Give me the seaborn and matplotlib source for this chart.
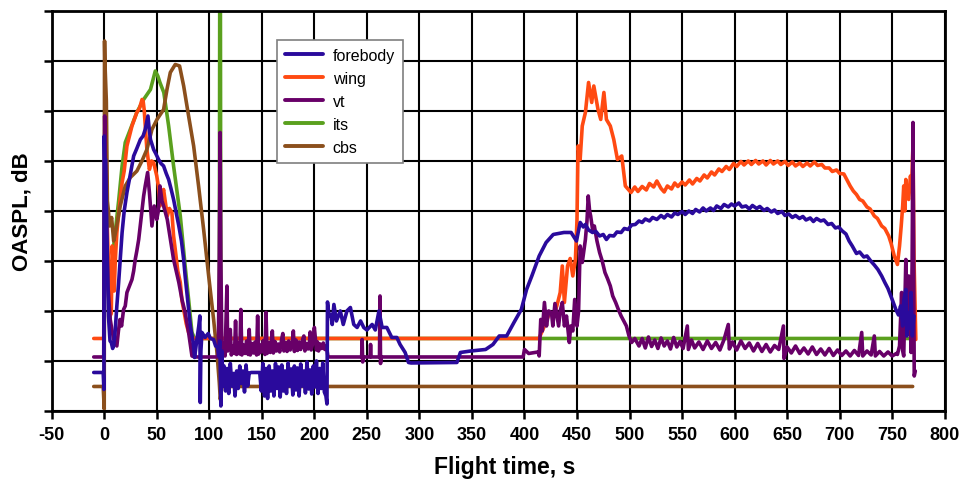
import numpy as np
import pandas as pd
import matplotlib
matplotlib.use("Agg")
import matplotlib.pyplot as plt
import seaborn as sns

# =====================
# DATA
# =====================
series_names = ["forebody", "wing", "vt", "its", "cbs"]
series_colors = ["#2A0A9C", "#FF4A12", "#680068", "#5AA01E", "#8B4F1C"]

x_ticks = list(range(-50, 801, 50))

forebody_t = [-10, -1, -0.3, 0, 0.5, 1.3, 2.5, 4, 5.5, 6.7, 8, 9, 10.5, 12, 13.7, 15.5, 17, 19, 21.6, 25,
              28, 31, 34.4, 37, 39, 41.6, 43, 44, 46, 47, 49, 51.7, 54, 56.5, 59, 61.3, 63.5, 66, 68.5, 71,
              73.5, 75.6, 77, 78.7, 80.5, 82, 84.7, 86, 88, 90, 91, 91.4, 92, 93, 96, 99, 101, 104, 106, 108,
              109, 110, 111, 112,
              113, 114, 115.5, 117, 118.5, 120, 121.5, 123, 124.5, 126, 127.5, 129, 130.5, 132, 133.5, 135,
              136.5, 138, 140, 142, 144, 146, 148, 149.5, 151, 152.5, 154, 155.5, 157, 158.5, 160, 161.5,
              163, 164.5, 166, 167.5, 169, 170.5, 172, 173.5, 175, 176.5, 178, 179.5, 181, 182.5, 184, 185.5,
              187, 188.5, 190, 191.5, 193, 194.5, 196, 197.5, 199, 200.5, 202, 203.5, 205, 206.5, 208, 209.5,
              211, 212, 212.5, 214, 215.7, 217, 218.6, 221, 224.7, 227.5, 231, 234.3, 237.5, 240.7, 244, 247,
              250, 255, 258, 261.5, 264.5, 269, 273.7, 278.5, 281.6, 286.4, 289.6, 292, 335.7, 339, 349, 363,
              370, 376, 383, 390, 397, 402, 407, 414, 420.6, 427.4, 437.6, 444.4, 449.5,
              453, 456, 458, 461, 464.8, 468, 471.5, 475, 478, 481, 485, 488, 492, 495, 498.7, 502, 505.5,
              509, 512, 515, 519, 522, 526, 530, 533, 536, 540, 543, 546, 550, 553, 556.5, 560, 563, 566.7,
              570, 573, 577, 580, 583, 587, 590, 594, 597, 600, 604, 607, 610.8, 614, 617, 621, 624, 628,
              631, 635, 638, 641, 645, 648, 651.5, 655, 658, 661.8, 665, 668, 672, 675, 678, 682, 685, 689,
              692.4, 696, 699, 702.5, 706, 709, 712, 716, 719, 723, 726, 729.6, 733, 736.4, 740, 743, 746,
              750, 753.5, 756, 758, 760, 761, 763, 764, 765.7, 767, 768, 769.2, 770, 770.8]
forebody_v = [7.7, 7.7, 4.3, 55, 50, 50.3, 36, 19, 14, 13.7, 12.5, 13, 16.3, 21, 25.7, 31, 35.7, 40, 43.7, 47.5,
              51, 52.5, 54.3, 55, 56.3, 59, 56, 54.3, 53, 52.3, 51.5, 50.3, 49.5, 49, 47.5, 46.3, 44.5, 42.3,
              39.7, 37, 34, 30.3, 27, 23.7, 20, 17, 13.7, 10.7, 14, 17, 19, 1.7, 12, 15.7, 14.7, 15.5, 14.5,
              14.3, 13, 12.7, 11, 14, 1, 12,
              5, 9, 4, 8.5, 3.5, 9.5, 5, 7.5, 3, 8, 4.5, 9, 5.5, 8, 3.8, 9.2, 5, 7.6, 7.7, 7.7, 7.7, 7.7,
              7.7, 4, 9.5, 3, 8.5, 2.5, 9, 4, 8, 3, 9.5, 4.5, 8.8, 2.8, 9.2, 4, 8, 3.5, 9.6, 5, 8.4, 3.2, 9,
              4.2, 8.6, 3, 9.4, 5, 8, 3.6, 9.8, 4.4, 8.2, 3.4, 9, 4.8, 10, 3.5, 8.5, 4.5, 9.6, 3.8,
              3, 1.4, 21.8, 19, 19.3, 17.3, 21.3, 18, 20, 17.3, 20, 20.7, 17.3, 16.7, 18, 16.7, 16.2, 17.3,
              16.2, 20, 16.7, 16.7, 14.7, 14.7, 13.3, 11.7, 9.7, 9.6, 9.7, 11.7, 12, 12.3, 13.3, 15, 15, 17.7,
              20.3, 24.3, 27, 31, 33.7, 35.3, 35.7, 35.7, 34,
              37.7, 36.8, 37.3, 36.2, 35.7, 35.9, 35, 35.3, 34.3, 35.1, 35, 35.8, 35.7, 36.5, 36.3, 37.2,
              37.3, 38, 37.7, 38.4, 38, 38.7, 38.3, 39.1, 38.6, 39.3, 38.8, 39.6, 39.3, 39.9, 39.3, 40, 39.5,
              40.3, 39.8, 40.6, 40, 40.6, 40.1, 41, 40.5, 41.3, 40.8, 41.4, 41, 41.6, 40.8, 41, 40.4, 41.1,
              40.5, 40.9, 40.1, 40.5, 39.8, 40.2, 39.5, 39.9, 39.1, 39.4, 38.7, 39.1, 38.5, 38.9, 38.2, 38.6,
              37.9, 38.5, 38, 38.2, 37.3, 37.5, 36.6, 36.8, 36, 35.4, 34, 33, 31.5, 31.8, 30.8, 31, 30, 29.2,
              28.3, 27, 25.7, 24.5, 22.3, 20.3, 19.2, 21, 17, 22, 24.3, 15, 19.7, 16.5, 23.7, 15, 17.5, 19]

wing_t = [-10, -0.5, 0, 0.5, 1.5, 2.5, 4, 5.5, 6.7, 7.5, 8.5, 9.5, 10.5, 12, 14.5, 17, 19, 21.6, 24, 26.4,
          29, 31, 33.5, 36, 37, 38, 40.6, 43, 45, 47, 50, 51.5, 53, 55, 56.5, 58, 60, 62, 64.4, 66, 67.6,
          70, 72.4, 74, 75.6, 78, 80.3, 83.5, 413.8,
          419, 424, 427.4, 430.8, 434, 436, 438, 441, 443.5, 446, 448.5, 450, 451, 453, 455, 458, 461,
          464, 466, 470, 472.6, 475.6, 478, 481.7, 485, 488.5, 492.6, 496,
          501.4, 505, 508, 512, 516, 519, 523, 526, 530, 533, 536, 540, 543, 546, 550, 553, 557, 560, 564,
          567, 571, 574, 578, 581, 585, 588, 592, 595, 599, 602, 606, 609, 613, 616, 620, 623, 627, 630,
          634, 637, 641, 644, 648, 651, 655, 658, 662, 665, 669, 672, 676, 679, 683, 686, 690, 693, 697,
          700, 704, 707, 710, 713, 716, 719, 722, 726, 729, 733, 736, 740, 743, 746.7, 749, 752, 755,
          757, 758.6, 760, 761, 762, 763, 764, 765.7, 767.4, 768.5, 769.8, 770.8, 772.5]
wing_v = [14.5, 14.5, 30, 55.7, 52, 40, 29, 19, 19.5, 33, 30, 24, 30, 35.7, 41, 45.7, 48, 53, 55, 57,
          58.5, 59.7, 60.5, 62.3, 62, 60.3, 52.3, 48.3, 50, 49.7, 47, 45, 41, 43, 44.3, 42, 39, 40.5, 39.7,
          35, 32.3, 28, 25.7, 22, 20.3, 17.5, 15.7, 14.5, 14.5,
          17, 19.7, 19, 21, 23.7, 29, 21.7, 29, 30.5, 27, 30.3, 38.3, 53, 50.3, 57, 59.7, 65.7,
          61.7, 65, 60.3, 58.3, 63.7, 58.3, 57, 54.3, 50.3, 51, 45,
          43.7, 44.8, 43.9, 44.9, 44.2, 45.5, 44.8, 46, 44.5, 43.8, 45, 44.4, 45.6, 44.9, 45.8, 45.2, 46.2,
          45.4, 46.5, 46, 47.2, 46.6, 47.8, 47.2, 48.4, 47.9, 48.9, 48.3, 49.5, 48.9, 49.9, 49.2, 50, 49.3,
          50.1, 49.4, 50, 49.2, 50.1, 49.4, 50, 49.3, 49.9, 49.1, 49.8, 49, 49.6, 48.9, 49.6, 49, 49.8,
          49.1, 49.3, 48.6, 48.6, 47.9, 48.2, 47.5, 47.4, 46.2, 45, 44, 43.3, 42.3, 42, 40.8, 40.4, 39,
          38.5, 37, 36.5, 35, 33.5, 31, 29.3, 33, 37, 41, 45, 40, 46.3, 43, 42.3, 47, 45, 53, 30.3, 14.3]

vt_t = [-10, -0.5, 0, 0.4, 1, 2, 3.5, 5.7, 7.5, 9, 12, 13.5, 15, 16.5, 18.4, 20, 21.6, 24, 26.4, 28, 29.5,
        31, 32.8, 34.5, 36, 37.5, 39, 41.3, 43, 45.4, 47.6, 50, 51.5, 53, 55, 56.5, 60, 63, 66, 68.5, 71,
        74, 77, 80.3, 83.5, 86, 108.5, 109.5, 110.3, 111,
        112, 113.5, 115, 116.8, 117.5, 119, 120, 121, 122.5, 124, 125, 126, 127.5, 129, 130, 131, 132.5,
        134, 135.5, 137, 138, 139, 140.5, 142, 143.5, 145, 146, 147, 148.5, 150, 151.5, 153, 154, 155,
        156.5, 158, 160, 161, 162.5, 164, 165.5, 167, 169, 170, 171, 172.5, 174, 175.5, 177, 179, 180,
        181, 182.5, 184, 185.5, 187, 189, 190, 191, 192.5, 194, 195.5, 196, 197, 198.5, 200, 202, 203,
        204, 205.5, 207, 208.5, 210, 211.5, 213,
        245, 245.5, 246, 246.5, 253, 253.5, 254, 262, 262.5, 263, 263.5, 398.7,
        400, 404, 413, 414, 415.5, 417, 419, 421, 423, 425.7, 427, 429, 432.5, 434, 436, 438, 440, 442.7,
        444, 446, 447.8, 450, 451.5, 453, 455, 456.5, 458, 459.5, 460.7, 462, 463, 465, 466.5, 469,
        471.5, 474, 476.6, 479, 481.7, 484, 486.8, 489, 492, 494.5, 497, 499.5, 502, 505, 509,
        512, 515, 518, 521, 524, 527, 530, 533, 536, 539, 542, 545, 548, 551, 555, 556, 559, 562, 566,
        570, 574, 578, 582, 586, 590, 594, 595, 598, 602, 606, 610, 614, 618, 622, 626, 630, 634, 638,
        642, 646.5, 647, 650, 654, 658, 662, 666, 670, 674, 678, 682, 686, 690, 694, 698, 702, 706, 710,
        714, 718, 721, 722, 726, 730, 733, 734, 738, 742, 746, 750, 754,
        755, 757, 759, 760, 761, 763, 764, 765.7, 767, 768, 769, 769.8, 770.5, 771, 772]
vt_v = [10.8, 10.8, 40, 59, 50, 35.7, 25, 18.3, 16, 14.3, 13, 16, 18.3, 17, 20.3, 21, 23.7, 25, 26.3, 28,
        30.3, 32, 34.3, 37.5, 40.3, 43, 45, 47.7, 43.7, 37, 41, 38.3, 40, 45, 42, 41, 38.3, 34.3, 30.3,
        28, 25.7, 22.3, 19.7, 15.7, 11, 10.8, 10.8, 30, 55.7, 30,
        11.5, 13.5, 11, 25, 12, 13.8, 16.3, 11.2, 13, 11.5, 18, 11.3, 13.6, 11.4, 20.3, 11.2, 13.2, 11.5,
        14, 11.3, 16.3, 11.2, 13.5, 11.6, 13.8, 11.2, 19, 11.4, 13.2, 11.8, 14.1, 11.3, 19.7, 11.5, 13.6,
        11.7, 16, 11.6, 13.9, 12, 13.4, 11.8, 14.5, 15.5, 12, 13.7, 11.9, 14, 12.2, 13.5, 16, 11.9, 14.2,
        12.1, 13.8, 12.3, 14.4, 15, 12, 13.5, 12.4, 14, 15.8, 12.2, 13.6, 16.7, 12.2, 13.8, 12, 13.4, 12.5,
        13.6, 12.3, 13, 10.8,
        10.8, 14.3, 9.8, 10.8, 10.8, 13.3, 10.8, 10.8, 23, 9.5, 10.8, 10.8,
        12.3, 11.5, 11.8, 11, 18.3, 16, 21.7, 17, 20, 19.7, 17, 21.5, 17, 20, 21.7, 17, 19, 13.7, 17, 16,
        22.3, 17, 20, 33, 29.7, 32, 34.3, 38, 43, 40, 39, 36, 37, 34, 31.7, 30, 27.7, 26.5, 25, 23, 21.7,
        20.5, 19, 18, 17, 15, 13.7, 14.5, 13,
        14.5, 12.6, 14.8, 12.9, 14.2, 12.5, 14.6, 13, 14, 12.4, 14.7, 12.8, 13.9, 12.5, 17, 12.3, 14.2,
        12.6, 13.8, 12.3, 14, 12.5, 13.7, 12.2, 14.3, 17.3, 12.4, 13.8, 12.2, 14, 12.5, 13.6, 12, 13.5,
        11.9, 13.3, 11.8, 13.1, 12.3, 17, 10.5, 12.8, 11.6, 13, 11.5, 12.6, 11.4, 12.8, 11.3, 12.4, 11.2,
        12.5, 11.1, 12.2, 11.1, 12, 11, 12.1, 11.1, 15.7, 11, 12, 11.2, 15, 11, 11.9, 11, 11.8, 11, 11.5,
        11.3, 13, 23.7, 12, 11, 30.3, 20, 27, 20, 11.7, 30, 57.7, 30, 7, 8]

its_t = [0, 0.2, 1, 3, 5, 7, 9, 13.7, 17, 20, 24.8, 31, 37.5, 44, 48.6, 51, 53, 56.7, 61.3, 66, 72.4, 77,
         80.3, 83.5, 86, 109.5, 110, 110.5, 111, 769]
its_v = [14.5, 36, 50, 30, 18, 25, 33, 42, 49, 53.7, 56.3, 59.7, 62.3, 64.3, 68, 67, 65.7, 63.7, 57, 49, 39,
         29, 22.3, 15.7, 14.5, 14.5, 95, 95, 14.5, 14.5]

cbs_t = [-10, -1, 0, 0.3, 0.6, 2, 3, 4, 5, 7, 9, 11, 15.2, 20, 24.8, 31.1, 35.9, 40.6, 45.4, 50.2, 56.5,
         59.7, 62.9, 67.6, 71.7, 75.6, 80.3, 85.1, 89.8, 94.6, 99.4, 104.1, 107.3, 109.5, 110.5, 112, 769.5]
cbs_v = [4.9, 4.9, 0.4, 74, 70, 62, 42, 40, 37, 38.7, 34, 36, 41, 45, 46.7, 48, 50, 52.3, 56.3, 58.3, 60.3,
         64.3, 67.7, 69.3, 69, 65, 59, 53, 45, 36.3, 27, 18.3, 11.7, 5.7, 2.3, 4.9, 4.9]

series_t = [forebody_t, wing_t, vt_t, its_t, cbs_t]
series_v = [forebody_v, wing_v, vt_v, its_v, cbs_v]
series_z = [6, 3, 5, 2, 4]

# =====================
# PLOT
# =====================
sns.set_style("white")
plt.rcParams["font.family"] = ["Liberation Sans", "DejaVu Sans"]
plt.rcParams["text.color"] = "black"
plt.rcParams["axes.labelcolor"] = "black"
plt.rcParams["xtick.color"] = "black"
plt.rcParams["ytick.color"] = "black"

fig = plt.figure(figsize=(9.63, 4.81), dpi=100)
ax = fig.add_axes([0.0537, 0.1435, 0.9273, 0.8316])

for name, color, t, v, z in zip(series_names, series_colors, series_t, series_v, series_z):
    df = pd.DataFrame({"t": t, "v": v})
    sns.lineplot(data=df, x="t", y="v", ax=ax, color=color, label=name,
                 estimator=None, sort=False, linewidth=2.6, zorder=z)

ax.set_xlim(-50, 800)
ax.set_ylim(0, 80)
ax.set_xticks(x_ticks)
ax.set_xticklabels([str(x) for x in x_ticks], fontsize=13, fontweight="bold")
ax.set_yticks(range(0, 81, 10))
ax.set_yticklabels([])
ax.grid(True, color="black", linewidth=1.5)
ax.set_axisbelow(True)
for sp in ax.spines.values():
    sp.set_color("black")
    sp.set_linewidth(2)
    sp.set_zorder(10)
ax.tick_params(axis="both", direction="out", length=6, width=1.8, color="black", pad=5,
               left=True, bottom=True)

ax.set_xlabel("Flight time, s", fontsize=16.5, fontweight="bold")
ax.xaxis.set_label_coords(0.507, -0.11)
ax.set_ylabel("OASPL, dB", fontsize=16, fontweight="bold")
ax.yaxis.set_label_coords(-0.021, 0.5)

leg = ax.legend(loc="upper left", bbox_to_anchor=(0.252, 0.9275), borderaxespad=0, fontsize=11.5,
                frameon=True, fancybox=False, framealpha=1, edgecolor="#7f7f7f", handlelength=2.4,
                handletextpad=0.6, labelspacing=0.5, borderpad=0.5)
leg.get_frame().set_linewidth(1.2)
for line in leg.get_lines():
    line.set_linewidth(2.8)

fig.savefig("out.png", dpi=100)
